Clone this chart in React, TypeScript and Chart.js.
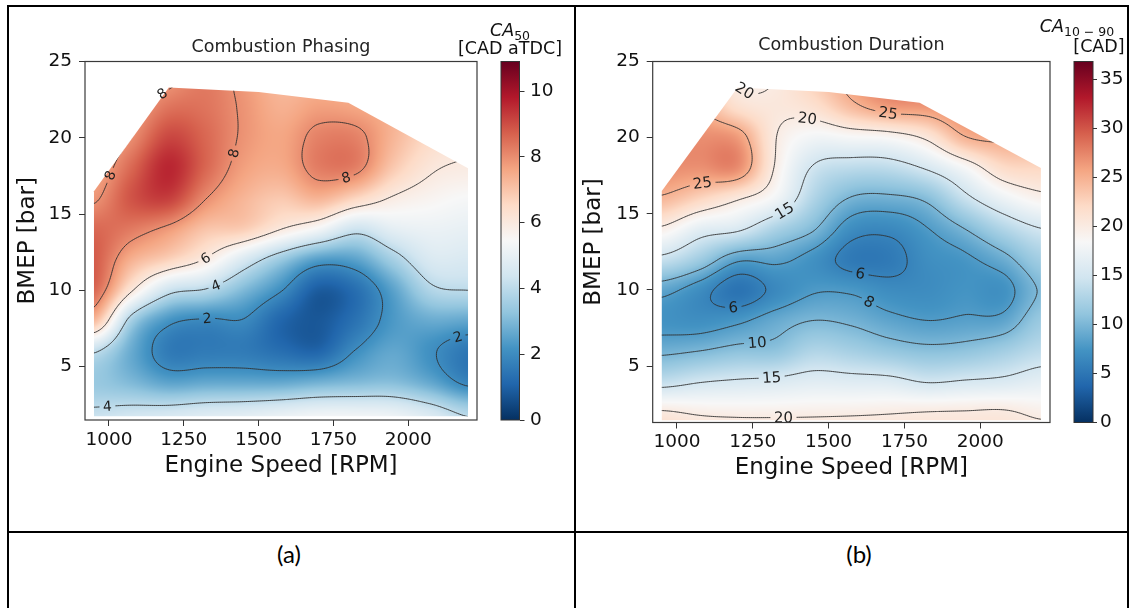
import React, { useEffect, useRef } from 'react';
import { Chart, registerables } from 'chart.js';

Chart.register(...registerables);

const FONT = "'DejaVu Sans', 'Liberation Sans', sans-serif";

// ---------------- data ----------------
const rpmGrid = [950, 1075, 1200, 1325, 1450, 1575, 1700, 1825, 1950, 2075, 2200];
const bmepGrid = [0, 2, 4, 6, 8, 10, 12, 14, 16, 18, 20, 22, 24];

// CA50 [CAD aTDC]; one row per bmepGrid value, columns follow rpmGrid
const ca50Grid = [
  [5.0, 5.2, 5.4, 5.6, 5.7, 5.9, 6.1, 6.1, 6.0, 5.5, 4.8],
  [4.15, 4.3, 4.4, 4.6, 4.7, 4.9, 5.1, 5.1, 5.0, 4.5, 3.8],
  [3.4, 3.0, 2.5, 2.6, 2.6, 2.6, 2.8, 3.0, 3.1, 2.6, 1.8],
  [4.1, 2.7, 1.6, 1.6, 1.6, 1.3, 1.1, 2.05, 2.6, 2.1, 1.5],
  [7.2, 3.6, 2.2, 1.9, 1.95, 1.1, 0.8, 1.4, 2.3, 2.7, 2.6],
  [8.6, 6.1, 4.3, 3.9, 3.0, 2.05, 0.9, 1.3, 2.5, 3.8, 4.0],
  [8.8, 7.4, 6.7, 5.9, 4.6, 3.4, 2.4, 2.5, 3.6, 4.6, 4.6],
  [8.6, 8.3, 7.8, 7.0, 6.8, 6.0, 5.3, 4.3, 4.9, 5.1, 5.0],
  [7.9, 8.9, 9.2, 8.0, 7.3, 6.9, 7.3, 6.6, 5.9, 5.6, 5.4],
  [7.5, 8.6, 9.6, 8.6, 7.7, 7.5, 8.25, 8.2, 6.9, 6.1, 5.9],
  [7.3, 8.0, 9.1, 8.6, 7.9, 7.6, 8.2, 8.2, 7.3, 6.5, 6.1],
  [7.2, 7.6, 8.4, 8.4, 7.9, 7.4, 7.7, 7.6, 7.3, 6.6, 6.2],
  [7.0, 7.4, 7.8, 8.3, 7.8, 7.2, 7.3, 7.3, 7.2, 6.6, 6.2],
];

// CA10-90 [CAD]; one row per bmepGrid value, columns follow rpmGrid
const ca1090Grid = [
  [22.5, 22.0, 22.0, 22.0, 22.0, 22.0, 21.5, 21.0, 20.8, 20.8, 21.0],
  [20.2, 19.6, 19.4, 19.4, 19.5, 19.6, 19.8, 20.0, 20.1, 20.2, 19.5],
  [13.8, 14.8, 15.3, 15.6, 16.2, 16.0, 15.8, 14.8, 15.2, 15.6, 16.5],
  [9.5, 10.0, 10.8, 11.0, 12.8, 12.2, 11.3, 10.7, 11.0, 12.0, 13.5],
  [7.3, 7.0, 7.6, 9.0, 10.0, 9.6, 8.6, 8.0, 8.3, 8.6, 11.5],
  [8.7, 6.9, 4.8, 6.5, 7.8, 7.7, 6.8, 6.8, 7.4, 7.2, 10.2],
  [14.2, 11.8, 8.4, 8.5, 7.2, 5.3, 5.3, 6.9, 7.6, 9.2, 12.0],
  [19.5, 16.5, 15.5, 12.5, 10.2, 6.9, 6.5, 7.9, 10.0, 12.8, 14.9],
  [24.6, 22.5, 20.3, 17.8, 12.8, 9.8, 9.5, 10.5, 14.2, 17.3, 19.2],
  [27.0, 26.8, 27.0, 19.7, 14.7, 13.5, 13.6, 15.3, 18.2, 21.8, 22.3],
  [27.0, 27.0, 26.3, 20.1, 17.8, 18.2, 18.6, 20.5, 24.8, 25.5, 25.0],
  [26.0, 25.0, 21.5, 20.5, 21.3, 24.2, 26.2, 26.5, 27.5, 27.0, 26.0],
  [25.0, 24.0, 19.8, 20.0, 23.0, 26.0, 28.5, 28.5, 28.0, 27.0, 26.0],
];

// measured operating-map boundary
const domainRpm = [950, 950, 1200, 1500, 1800, 2200, 2200];
const domainBmepA = [1.75, 16.5, 23.3, 23.0, 22.3, 18.0, 1.75];
const domainBmepB = [1.45, 16.5, 23.3, 23.0, 22.3, 18.0, 1.45];

const xTicks = [1000, 1250, 1500, 1750, 2000];
const yTicks = [5, 10, 15, 20, 25];
const ca50Ticks = [0, 2, 4, 6, 8, 10];
const ca1090Ticks = [0, 5, 10, 15, 20, 25, 30, 35];
const ca50Levels = [2, 4, 6, 8];
const ca1090Levels = [6, 8, 10, 15, 20, 25];

// contour label anchors: [rpm, bmep, level]
const ca50LabelAt = [
  [1009, 17.5, 8], [1181, 22.8, 8], [1415, 19.0, 8], [1792, 17.45, 8],
  [1323, 12.1, 6], [1360, 10.2, 4], [1329, 7.5, 2], [2168, 6.8, 2], [996, 2.2, 4],
];
const ca1090LabelAt = [
  [1217, 22.9, 20], [1430, 21.3, 20], [1696, 21.6, 25], [1087, 16.7, 25], [1351, 15.3, 15],
  [1186, 9.1, 6], [1603, 10.9, 6], [1630, 9.1, 8], [1263, 6.7, 10], [1312, 4.4, 15], [1351, 1.7, 20],
];

// matplotlib RdBu_r
const rdbuR = ['#053061', '#2166ac', '#4393c3', '#92c5de', '#d1e5f0', '#f7f7f7', '#fddbc7', '#f4a582', '#d6604d', '#b2182b', '#67001f'];

// ---------------- helpers ----------------
const stops = rdbuR.map((h) => [parseInt(h.slice(1, 3), 16), parseInt(h.slice(3, 5), 16), parseInt(h.slice(5, 7), 16)]);
function cmap(t: number): number[] {
  const n = stops.length;
  const tt = Math.max(0, Math.min(1, t)) * (n - 1);
  const i = Math.min(Math.floor(tt), n - 2);
  const f = tt - i;
  const a = stops[i], b = stops[i + 1];
  return [a[0] + (b[0] - a[0]) * f, a[1] + (b[1] - a[1]) * f, a[2] + (b[2] - a[2]) * f];
}

function cr(p0: number, p1: number, p2: number, p3: number, t: number) {
  return 0.5 * (2 * p1 + (-p0 + p2) * t + (2 * p0 - 5 * p1 + 4 * p2 - p3) * t * t + (-p0 + 3 * p1 - 3 * p2 + p3) * t * t * t);
}

function sampleGrid(grid: number[][], xv: number, yv: number) {
  const nx = rpmGrid.length, ny = bmepGrid.length;
  let fx = (xv - rpmGrid[0]) / (rpmGrid[1] - rpmGrid[0]);
  let fy = (yv - bmepGrid[0]) / (bmepGrid[1] - bmepGrid[0]);
  fx = Math.max(0, Math.min(nx - 1, fx));
  fy = Math.max(0, Math.min(ny - 1, fy));
  const ix = Math.min(Math.floor(fx), nx - 2), iy = Math.min(Math.floor(fy), ny - 2);
  const tx = fx - ix, ty = fy - iy;
  const g = (j: number, i: number) => grid[Math.max(0, Math.min(ny - 1, j))][Math.max(0, Math.min(nx - 1, i))];
  const r: number[] = [];
  for (let dj = -1; dj <= 2; dj++) r.push(cr(g(iy + dj, ix - 1), g(iy + dj, ix), g(iy + dj, ix + 1), g(iy + dj, ix + 2), tx));
  return cr(r[0], r[1], r[2], r[3], ty);
}

const SEGS: number[][][] = [
  [], [[3, 2]], [[2, 1]], [[3, 1]], [[0, 1]], [[0, 1], [3, 2]], [[0, 2]], [[0, 3]],
  [[0, 3]], [[0, 2]], [[0, 3], [1, 2]], [[0, 1]], [[3, 1]], [[1, 2]], [[3, 2]], [],
];

type HeatCfg = {
  grid: number[][]; vmin: number; vmax: number; levels: number[];
  boundBmep: number[]; labels: number[][]; labelFont: number;
};

function makeHeatPlugin(cfg: HeatCfg) {
  return {
    id: 'heatmap',
    beforeDatasetsDraw(chart: any) {
      const { ctx, chartArea: a, scales } = chart;
      const xs = scales.x, ys = scales.y;
      const L = Math.floor(a.left), T = Math.floor(a.top);
      const W = Math.ceil(a.right) - L, H = Math.ceil(a.bottom) - T;
      const field = new Float32Array(W * H);
      const img = new ImageData(W, H);
      const xv: number[] = [];
      for (let i = 0; i < W; i++) xv.push(xs.getValueForPixel(L + i + 0.5));
      for (let j = 0; j < H; j++) {
        const yv = ys.getValueForPixel(T + j + 0.5);
        for (let i = 0; i < W; i++) {
          const v = sampleGrid(cfg.grid, xv[i], yv);
          field[j * W + i] = v;
          const c = cmap((v - cfg.vmin) / (cfg.vmax - cfg.vmin));
          const k = (j * W + i) * 4;
          img.data[k] = c[0]; img.data[k + 1] = c[1]; img.data[k + 2] = c[2]; img.data[k + 3] = 255;
        }
      }
      const off = document.createElement('canvas');
      off.width = W; off.height = H;
      (off.getContext('2d') as CanvasRenderingContext2D).putImageData(img, 0, 0);

      const poly = new Path2D();
      domainRpm.forEach((r, k) => {
        const px = xs.getPixelForValue(r), py = ys.getPixelForValue(cfg.boundBmep[k]);
        if (k === 0) poly.moveTo(px, py); else poly.lineTo(px, py);
      });
      poly.closePath();

      const f = (px: number, py: number) => sampleGrid(cfg.grid, xs.getValueForPixel(px), ys.getValueForPixel(py));
      ctx.save();
      ctx.font = `${cfg.labelFont}px ${FONT}`;
      const labelItems = cfg.labels.map(([r, b, lv]) => {
        let px = xs.getPixelForValue(r), py = ys.getPixelForValue(b);
        const ox = px, oy = py;
        let gx = 0, gy = 0;
        for (let k = 0; k < 30; k++) {
          const v = f(px, py);
          gx = (f(px + 1, py) - f(px - 1, py)) / 2;
          gy = (f(px, py + 1) - f(px, py - 1)) / 2;
          const g2 = gx * gx + gy * gy;
          if (g2 < 1e-9) break;
          let dx = ((lv - v) / g2) * gx, dy = ((lv - v) / g2) * gy;
          const d = Math.hypot(dx, dy);
          if (d > 3) { dx *= 3 / d; dy *= 3 / d; }
          px += dx; py += dy;
          if (Math.abs(lv - v) < 1e-3) break;
        }
        if (Math.hypot(px - ox, py - oy) > 25 || Math.abs(f(px, py) - lv) > 0.1) { px = ox; py = oy; }
        let ang = Math.atan2(gx, -gy);
        if (ang > Math.PI / 2) ang -= Math.PI;
        if (ang < -Math.PI / 2) ang += Math.PI;
        const text = String(lv);
        const w = ctx.measureText(text).width + 7;
        const h = cfg.labelFont + 2;
        return { px, py, ang, text, w, h };
      });
      ctx.restore();

      ctx.save();
      ctx.clip(poly);
      ctx.drawImage(off, L, T);

      const holes = new Path2D();
      holes.rect(a.left - 5, a.top - 5, a.right - a.left + 10, a.bottom - a.top + 10);
      labelItems.forEach((it) => {
        const c = Math.cos(it.ang), s = Math.sin(it.ang);
        const pts = [[-it.w / 2, -it.h / 2], [it.w / 2, -it.h / 2], [it.w / 2, it.h / 2], [-it.w / 2, it.h / 2]].map(([u, v]) => [it.px + u * c - v * s, it.py + u * s + v * c]);
        holes.moveTo(pts[0][0], pts[0][1]);
        for (let q = 1; q < 4; q++) holes.lineTo(pts[q][0], pts[q][1]);
        holes.closePath();
      });
      ctx.clip(holes, 'evenodd');

      const s = 2;
      const nx = Math.floor((W - 1) / s) + 1, ny = Math.floor((H - 1) / s) + 1;
      const val = (i: number, j: number) => field[j * s * W + i * s];
      ctx.strokeStyle = '#303030';
      ctx.lineWidth = 0.9;
      ctx.lineCap = 'butt';
      cfg.levels.forEach((lv) => {
        ctx.beginPath();
        for (let j = 0; j < ny - 1; j++) {
          for (let i = 0; i < nx - 1; i++) {
            const va = val(i, j), vb = val(i + 1, j), vc = val(i + 1, j + 1), vd = val(i, j + 1);
            const idx = (va > lv ? 8 : 0) | (vb > lv ? 4 : 0) | (vc > lv ? 2 : 0) | (vd > lv ? 1 : 0);
            if (idx === 0 || idx === 15) continue;
            const x0 = L + i * s + 0.5, y0 = T + j * s + 0.5;
            const ep = (e: number) => {
              if (e === 0) return [x0 + (s * (lv - va)) / (vb - va), y0];
              if (e === 1) return [x0 + s, y0 + (s * (lv - vb)) / (vc - vb)];
              if (e === 2) return [x0 + (s * (lv - vd)) / (vc - vd), y0 + s];
              return [x0, y0 + (s * (lv - va)) / (vd - va)];
            };
            SEGS[idx].forEach(([e1, e2]) => {
              const p1 = ep(e1), p2 = ep(e2);
              ctx.moveTo(p1[0], p1[1]);
              ctx.lineTo(p2[0], p2[1]);
            });
          }
        }
        ctx.stroke();
      });
      ctx.restore();

      ctx.save();
      ctx.font = `${cfg.labelFont}px ${FONT}`;
      ctx.fillStyle = '#1e1e1e';
      ctx.textAlign = 'center';
      ctx.textBaseline = 'middle';
      labelItems.forEach((it) => {
        ctx.save();
        ctx.translate(it.px, it.py);
        ctx.rotate(it.ang);
        ctx.fillText(it.text, 0, 1);
        ctx.restore();
      });
      ctx.restore();
    },
  };
}

const framePlugin = {
  id: 'frame',
  afterDraw(chart: any) {
    const { ctx, chartArea: a } = chart;
    ctx.save();
    ctx.strokeStyle = '#3a3a3a';
    ctx.lineWidth = 1.2;
    ctx.strokeRect(a.left, a.top, a.right - a.left, a.bottom - a.top);
    ctx.restore();
  },
};

function makeBarPlugin(vmin: number, vmax: number) {
  return {
    id: 'cbar',
    beforeDatasetsDraw(chart: any) {
      const { ctx, chartArea: a, scales } = chart;
      const y0 = scales.y.getPixelForValue(vmin), y1 = scales.y.getPixelForValue(vmax);
      const g = ctx.createLinearGradient(0, y0, 0, y1);
      rdbuR.forEach((c, i) => g.addColorStop(i / (rdbuR.length - 1), c));
      ctx.save();
      ctx.fillStyle = g;
      ctx.fillRect(a.left, a.top, a.right - a.left, a.bottom - a.top);
      ctx.strokeStyle = '#333';
      ctx.lineWidth = 1;
      ctx.strokeRect(a.left, a.top, a.right - a.left, a.bottom - a.top);
      ctx.restore();
    },
  };
}

type MainOpts = {
  title: string; heat: HeatCfg; yMin: number; yWidth: number; xHeight: number; padRight: number;
  titleTop: number; titleBottom: number; xTitleBottom: number; yTitleTop: number;
};

function mainConfig(o: MainOpts): any {
  const tickFont = { family: FONT, size: 18.5 };
  const labelFont = { family: FONT, size: 23 };
  return {
    type: 'scatter',
    data: { datasets: [] },
    options: {
      responsive: false,
      animation: false,
      devicePixelRatio: 1,
      layout: { padding: { left: 0, right: o.padRight, top: 0, bottom: 0 } },
      plugins: {
        legend: { display: false },
        tooltip: { enabled: false },
        title: {
          display: true, text: o.title, fullSize: false, color: '#222',
          font: { family: FONT, size: 17.5, weight: 'normal' },
          padding: { top: o.titleTop, bottom: o.titleBottom },
        },
      },
      scales: {
        x: {
          type: 'linear', min: 920, max: 2230,
          afterBuildTicks: (s: any) => { s.ticks = xTicks.map((v) => ({ value: v })); },
          afterFit: (s: any) => { s.height = o.xHeight; },
          ticks: { font: tickFont, color: '#111', padding: 3, maxRotation: 0, autoSkip: false, callback: (v: any) => String(v) },
          grid: { drawOnChartArea: false, tickLength: 6, color: '#333' },
          border: { display: false },
          title: { display: true, text: 'Engine Speed [RPM]', font: labelFont, color: '#111', padding: { top: 0, bottom: o.xTitleBottom } },
        },
        y: {
          type: 'linear', min: o.yMin, max: 25,
          afterBuildTicks: (s: any) => { s.ticks = yTicks.map((v) => ({ value: v })); },
          afterFit: (s: any) => { s.width = o.yWidth; },
          ticks: { font: tickFont, color: '#111', padding: 7 },
          grid: { drawOnChartArea: false, tickLength: 6, color: '#333' },
          border: { display: false },
          title: { display: true, text: 'BMEP [bar]', font: labelFont, color: '#111', padding: { top: o.yTitleTop, bottom: 0 } },
        },
      },
    },
    plugins: [makeHeatPlugin(o.heat), framePlugin],
  };
}

type BarOpts = { vmax: number; ticks: number[]; padLeft: number; padTop: number; padBottom: number; width: number; tickLen: number; tickPad: number };
function barConfig(o: BarOpts): any {
  return {
    type: 'scatter',
    data: { datasets: [] },
    options: {
      responsive: false,
      animation: false,
      devicePixelRatio: 1,
      layout: { padding: { left: o.padLeft, right: 0, top: o.padTop, bottom: o.padBottom } },
      plugins: { legend: { display: false }, tooltip: { enabled: false }, title: { display: false } },
      scales: {
        x: { display: false, min: 0, max: 1 },
        y: {
          type: 'linear', position: 'right', min: 0, max: o.vmax,
          afterBuildTicks: (s: any) => { s.ticks = o.ticks.map((v) => ({ value: v })); },
          afterFit: (s: any) => { s.width = o.width; },
          ticks: { font: { family: FONT, size: 18.5 }, color: '#111', padding: o.tickPad },
          grid: { drawOnChartArea: false, tickLength: o.tickLen, color: '#333' },
          border: { display: false },
        },
      },
    },
    plugins: [makeBarPlugin(0, o.vmax)],
  };
}

const abs = (l: number, t: number, w: number, h: number): React.CSSProperties => ({ position: 'absolute', left: l, top: t, width: w, height: h });

export default function App() {
  const cA = useRef<HTMLCanvasElement>(null);
  const cB = useRef<HTMLCanvasElement>(null);
  const bA = useRef<HTMLCanvasElement>(null);
  const bB = useRef<HTMLCanvasElement>(null);

  useEffect(() => {
    const charts = [
      new Chart(cA.current as HTMLCanvasElement, mainConfig({
        title: 'Combustion Phasing',
        heat: { grid: ca50Grid, vmin: 0, vmax: 10.9, levels: ca50Levels, boundBmep: domainBmepA, labels: ca50LabelAt, labelFont: 14 },
        yMin: 1.5, yWidth: 85, xHeight: 70, padRight: 18, titleTop: 36.5, titleBottom: 4, xTitleBottom: 10.5, yTitleTop: 14.2,
      })),
      new Chart(cB.current as HTMLCanvasElement, mainConfig({
        title: 'Combustion Duration',
        heat: { grid: ca1090Grid, vmin: 0, vmax: 36.8, levels: ca1090Levels, boundBmep: domainBmepB, labels: ca1090LabelAt, labelFont: 15 },
        yMin: 1.3, yWidth: 87.7, xHeight: 70.5, padRight: 15, titleTop: 34.5, titleBottom: 6, xTitleBottom: 10.9, yTitleTop: 15.7,
      })),
      new Chart(bA.current as HTMLCanvasElement, barConfig({ vmax: 10.9, ticks: ca50Ticks, padLeft: 11, padTop: 61.5, padBottom: 20, width: 55.5, tickLen: 5, tickPad: 5.5 })),
      new Chart(bB.current as HTMLCanvasElement, barConfig({ vmax: 36.8, ticks: ca1090Ticks, padLeft: 14, padTop: 61.5, padBottom: 17.5, width: 41, tickLen: 4, tickPad: 3 })),
    ];
    return () => charts.forEach((c) => c.destroy());
  }, []);

  const txt: React.CSSProperties = { position: 'absolute', textAlign: 'center', fontFamily: FONT, fontSize: 17.5, lineHeight: '21px', color: '#111', whiteSpace: 'nowrap' };
  const sub: React.CSSProperties = { fontSize: 12.5, verticalAlign: '-4px', lineHeight: 0, fontStyle: 'normal' };

  return (
    <div style={{ position: 'fixed', left: 0, top: 0, width: 1134, height: 608, background: '#fff', overflow: 'hidden' }}>
      <canvas ref={cA} width={495} height={490} style={{ position: 'absolute', left: 0, top: 0 }} />
      <canvas ref={cB} width={500} height={493} style={{ position: 'absolute', left: 565, top: 0 }} />
      <canvas ref={bA} width={85} height={440} style={{ position: 'absolute', left: 490, top: 0 }} />
      <canvas ref={bB} width={74} height={440} style={{ position: 'absolute', left: 1060, top: 0 }} />

      <div style={{ ...txt, left: 450, top: 20.2, width: 120 }}><i>CA</i><span style={sub}>50</span></div>
      <div style={{ ...txt, left: 450, top: 37.8, width: 120 }}>[CAD aTDC]</div>
      <div style={{ ...txt, left: 1017, top: 16.2, width: 120 }}><i>CA</i><span style={sub}>10 − 90</span></div>
      <div style={{ ...txt, left: 1039, top: 36.2, width: 120 }}>[CAD]</div>

      <div style={{ ...abs(7, 5, 1121, 2), background: '#000' }} />
      <div style={{ ...abs(7, 531, 1121, 2), background: '#000' }} />
      <div style={{ ...abs(7, 5, 1.5, 603), background: '#000' }} />
      <div style={{ ...abs(574, 5, 1.5, 603), background: '#000' }} />
      <div style={{ ...abs(1127, 5, 1.5, 603), background: '#000' }} />

      <div style={{ position: 'absolute', left: 189, top: 539, width: 200, textAlign: 'center', fontFamily: 'Lato, "Open Sans", sans-serif', fontSize: 24, lineHeight: '30px', color: '#000' }}>(a)</div>
      <div style={{ position: 'absolute', left: 759, top: 539, width: 200, textAlign: 'center', fontFamily: 'Lato, "Open Sans", sans-serif', fontSize: 24, lineHeight: '30px', color: '#000' }}>(b)</div>
    </div>
  );
}
